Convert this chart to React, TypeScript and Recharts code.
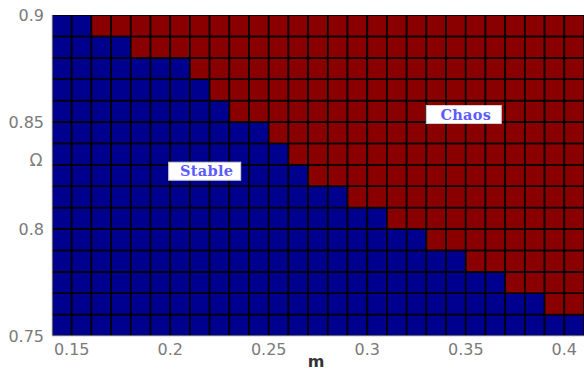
import React from 'react';
import { ComposedChart, XAxis, YAxis, ReferenceArea, ReferenceDot } from 'recharts';

// cell left edges (m) and bottom edges (Omega)
const mCells = [0.14, 0.15, 0.16, 0.17, 0.18, 0.19, 0.2, 0.21, 0.22, 0.23, 0.24, 0.25, 0.26, 0.27, 0.28, 0.29, 0.3, 0.31, 0.32, 0.33, 0.34, 0.35, 0.36, 0.37, 0.38, 0.39, 0.4];
const omegaCells = [0.75, 0.76, 0.77, 0.78, 0.79, 0.8, 0.81, 0.82, 0.83, 0.84, 0.85, 0.86, 0.87, 0.88, 0.89];
// number of stable (blue) cells in each Omega row, counted from the left
const stableCount = [27, 25, 23, 21, 19, 17, 15, 13, 12, 11, 9, 8, 7, 4, 2];
const xTicks = [0.15, 0.2, 0.25, 0.3, 0.35, 0.4];
const yTicks = [0.75, 0.8, 0.85, 0.9];
const regionLabels = [
  { name: 'Stable', m: 0.2175, omega: 0.827, w: 72 },
  { name: 'Chaos', m: 0.349, omega: 0.8535, w: 75 },
];

const STEP = 0.01;
const BLUE = '#00008f';
const RED = '#8a0000';

const BoxLabel = (props: any) => {
  const { viewBox, value, w } = props;
  const cx = viewBox.x + (viewBox.width || 0) / 2;
  const cy = viewBox.y + (viewBox.height || 0) / 2;
  const h = 18;
  return (
    <g>
      <rect x={cx - w / 2} y={cy - h / 2} width={w} height={h} fill="#fff" stroke="#d0d0d0" strokeWidth={1} />
      <text x={cx + 2} y={cy + 5} textAnchor="middle" fontFamily="'DejaVu Serif', serif" fontWeight="bold" fontSize={14.5} letterSpacing={0.3} fill="#5c5cff">
        {value}
      </text>
    </g>
  );
};

const OmegaLabel = () => (
  <text x={36} y={166} textAnchor="middle" fontFamily="'DejaVu Sans', sans-serif" fontSize={17} fill="#808080">
    Ω
  </text>
);

export default function App() {
  const cells: any[] = [];
  omegaCells.forEach((om, r) => {
    mCells.forEach((m, c) => {
      const stable = c < stableCount[r];
      cells.push(
        <ReferenceArea
          key={`${r}-${c}`}
          x1={m}
          x2={m + STEP}
          y1={om}
          y2={om + STEP}
          fill={stable ? BLUE : RED}
          fillOpacity={1}
          stroke="#000"
          strokeOpacity={0.85}
          strokeWidth={1.8}
          ifOverflow="hidden"
        />
      );
    });
  });

  const tickStyle = { fontFamily: "'DejaVu Sans', sans-serif", fontSize: 16, fill: '#7a7a7a' };

  return (
    <div style={{ position: 'absolute', left: 0, top: 0, width: 584, height: 372, background: '#fff' }}>
      <ComposedChart width={584} height={372} margin={{ top: 15, right: 0, bottom: 0, left: 0 }}>
        <XAxis
          type="number"
          dataKey="m"
          domain={[0.14, 0.41]}
          ticks={xTicks}
          tickLine={false}
          axisLine={{ stroke: '#c8c8c8' }}
          tick={tickStyle}
          height={36}
          interval={0}
          allowDataOverflow
          label={(p: any) => (
            <text x={316} y={367} textAnchor="middle" fontFamily="'DejaVu Sans', sans-serif" fontWeight="bold" fontSize={16} fill="#333">
              m
            </text>
          )}
        />
        <XAxis xAxisId="top" orientation="top" type="number" domain={[0.14, 0.41]} height={0} tick={false} tickLine={false} axisLine={{ stroke: '#c8c8c8' }} />
        <YAxis
          type="number"
          domain={[0.75, 0.9]}
          ticks={yTicks}
          tickLine={false}
          axisLine={{ stroke: '#c8c8c8' }}
          tick={tickStyle}
          width={52}
          interval={0}
          allowDataOverflow
          label={<OmegaLabel />}
        />
        {cells}
        {regionLabels.map((l) => (
          <ReferenceDot
            key={l.name}
            x={l.m}
            y={l.omega}
            r={0}
            fill="none"
            stroke="none"
            label={<BoxLabel value={l.name} w={l.w} />}
          />
        ))}
      </ComposedChart>
    </div>
  );
}
